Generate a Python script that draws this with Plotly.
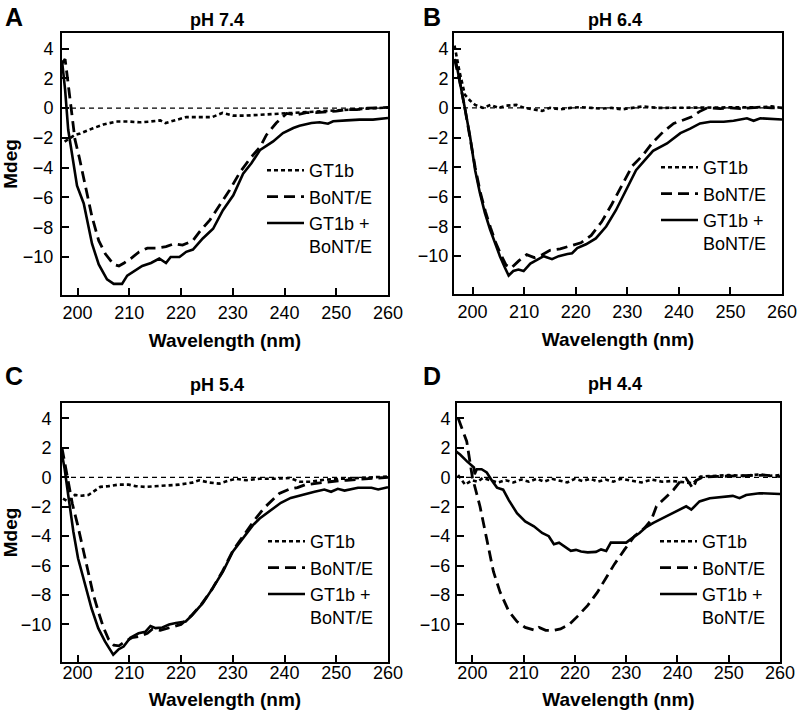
import plotly.graph_objects as go

# ---------------- data ----------------
panel_letters = ["A", "B", "C", "D"]
panel_titles = ["pH 7.4", "pH 6.4", "pH 5.4", "pH 4.4"]
series_names = ["GT1b", "BoNT/E", "GT1b +<br>BoNT/E"]
x_ticks = [200, 210, 220, 230, 240, 250, 260]
y_ticks = [4, 2, 0, -2, -4, -6, -8, -10]

# Panel A, pH 7.4
A_gt1b_wl = [197.5, 198.5, 199.5, 200.5, 201.5, 203, 205, 207.5, 210, 212, 214, 216, 217, 219, 221, 223.5,
             226, 228, 230, 232.5, 235, 237.5, 240, 242.5, 245, 247.5, 250, 252.5, 255, 257.5, 260]
A_gt1b = [-2.25, -2.0, -1.8, -1.7, -1.55, -1.35, -1.1, -0.9, -0.9, -0.95, -0.9, -0.82, -1.0, -0.78, -0.6, -0.6,
          -0.6, -0.32, -0.5, -0.5, -0.45, -0.4, -0.35, -0.3, -0.3, -0.25, -0.15, -0.1, -0.05, 0.0, 0.05]
A_bont_wl = [197, 197.6, 198.1, 198.8, 199.5, 200.3, 201.5, 202.8, 204.1, 205.4, 207, 208, 209, 210.3, 211.9,
             213.5, 215.1, 217.1, 218.7, 220.3, 222.3, 223.6, 225.6, 227.5, 229.4, 231.4, 233.3, 235.3, 236.5,
             238.4, 240.4, 242.3, 244.2, 246, 248, 250, 252, 254, 256, 258, 260]
A_bont = [3.0, 3.3, 1.9, -0.3, -2.1, -3.25, -5.3, -7.3, -8.9, -9.8, -10.5, -10.6, -10.4, -10.1, -9.65,
          -9.4, -9.4, -9.3, -9.1, -9.2, -8.9, -8.3, -7.5, -6.5, -5.5, -4.3, -3.4, -2.6, -1.8,
          -1.0, -0.35, -0.45, -0.3, -0.3, -0.25, -0.2, -0.1, -0.1, 0.0, 0.05, 0.05]
A_mix_wl = [197, 197.6, 198.2, 199.2, 199.9, 201.2, 202.8, 204.1, 205.7, 207, 208.6, 209.6, 211.2, 212.5, 214.2,
            215.8, 217.1, 218, 219.7, 221, 222.3, 224.2, 226.2, 228.1, 230.1, 232, 233.6, 235.3, 237.8, 239.7,
            241.7, 242.9, 245.2, 246.8, 248.4, 249.4, 252, 254.5, 257.1, 260]
A_mix = [3.2, 1.25, -1.45, -3.7, -5.2, -6.4, -9.1, -10.5, -11.5, -11.8, -11.8, -11.25, -10.9, -10.6, -10.4,
         -10.1, -10.4, -10.0, -10.0, -9.65, -9.5, -8.75, -8.1, -6.85, -5.85, -4.4, -3.7, -2.8, -2.23, -1.67,
         -1.33, -1.18, -1.0, -0.95, -1.04, -0.88, -0.82, -0.77, -0.77, -0.66]

# Panel B, pH 6.4
B_gt1b_wl = [196.5, 197.5, 198.5, 199.5, 200.5, 202, 203.5, 205, 206.5, 208.5, 210, 212, 213.5, 215, 217, 219,
             221, 223, 225, 227, 229, 231, 233, 236, 240, 243, 246, 250, 253, 256, 258, 260]
B_gt1b = [4.2, 2.4, 0.9, 0.5, 0.2, 0.0, 0.2, 0.0, 0.15, 0.2, 0.0, -0.1, -0.2, 0.0, -0.1, 0.0,
          0.05, 0.0, -0.05, 0.0, -0.1, 0.0, 0.1, 0.0, 0.0, 0.0, 0.05, 0.0, 0.0, 0.05, 0.1, 0.0]
B_bont_wl = [196.5, 197.5, 198.5, 199.5, 200.5, 201.5, 202.5, 203.5, 204.5, 205.5, 206.5, 207.5, 209, 210.5, 212,
             213.5, 215, 217, 219, 221, 223, 225, 227, 229, 231, 233, 235, 237, 239, 241, 242.5, 244, 245.5,
             248, 250, 252, 254, 256, 258, 260]
B_bont = [3.3, 1.8, 0.0, -2.0, -4.0, -5.7, -7.0, -8.1, -9.1, -9.9, -10.6, -10.8, -10.3, -9.9, -10.1,
          -9.9, -9.6, -9.5, -9.3, -9.1, -8.6, -7.7, -6.5, -5.2, -3.9, -3.2, -2.3, -1.6, -1.05, -0.8, -0.6, -0.25, 0.0,
          -0.05, 0.0, -0.05, 0.0, 0.05, 0.0, 0.0]
B_mix_wl = [196.7, 197.5, 198.5, 199.5, 200.5, 201.4, 202.4, 203.4, 204.4, 205.3, 206.3, 207, 207.9, 208.9, 209.9,
            211.2, 212.5, 213.8, 215.4, 216.7, 218.4, 219.3, 220.3, 222, 223.9, 225.9, 227.8, 229.8, 231.7, 233.7,
            235, 237.7, 240.3, 242.2, 243.2, 244.1, 246.1, 248.7, 250.6, 253.2, 254.5, 255.8, 260]
B_mix = [3.27, 1.7, 0.0, -1.9, -4.2, -5.7, -7.1, -8.2, -9.2, -10.0, -10.8, -11.3, -11.0, -10.9, -11.0,
         -10.5, -10.25, -10.0, -10.2, -10.0, -9.85, -9.8, -9.45, -9.2, -8.8, -8.0, -6.9, -5.5, -4.2, -3.4,
         -2.9, -2.4, -1.7, -1.4, -1.2, -1.05, -0.93, -0.93, -0.87, -0.7, -0.87, -0.7, -0.78]

# Panel C, pH 5.4
C_gt1b_wl = [197.2, 198.2, 199.5, 200.8, 202.1, 203.4, 204.4, 206, 207.9, 209.9, 211.2, 213.1, 215.1, 217.7, 219.6,
             222.2, 223.5, 225.5, 227.4, 229.4, 230.6, 232.6, 235.2, 238, 241, 243, 245, 248, 251, 254, 257, 260]
C_gt1b = [-1.45, -1.65, -1.2, -1.25, -1.2, -0.9, -0.65, -0.6, -0.5, -0.5, -0.6, -0.65, -0.6, -0.55, -0.5,
          -0.36, -0.2, -0.36, -0.43, -0.2, -0.1, -0.2, -0.1, -0.1, -0.05, -0.3, -0.3, -0.15, -0.1, -0.05, 0.0, 0.05]
C_bont_wl = [197, 198, 199, 200, 201, 202, 203, 204, 205, 206, 207, 208, 209, 210.5, 212, 213.5, 214.5, 216, 218,
             220, 222, 224, 226, 228, 230, 232, 234, 236, 237.5, 239, 241, 242.5, 244, 246, 248, 250, 252, 254,
             256, 258, 260]
C_bont = [2.0, 0.0, -1.8, -3.2, -4.8, -6.4, -7.9, -9.1, -10.2, -11.0, -11.4, -11.45, -11.2, -10.9, -10.8, -10.6,
          -10.3, -10.4, -10.2, -10.0, -9.4, -8.6, -7.6, -6.4, -5.0, -4.0, -3.0, -2.1, -1.6, -1.1, -0.8, -0.7,
          -0.5, -0.4, -0.3, -0.25, -0.2, -0.15, -0.1, -0.05, 0.0]
C_mix_wl = [196.75, 197.5, 198.2, 199.2, 200.1, 201.4, 202.7, 204, 205.3, 206.9, 207.9, 208.9, 210.2, 211.8, 213.1,
            214.1, 215.1, 216.4, 217.7, 219, 220.9, 222.2, 224.2, 226.1, 228.1, 230, 232, 233.9, 235.2, 236.7,
            239.3, 241.2, 243.2, 245.8, 247.7, 249, 250.3, 251.6, 254.2, 256.8, 258.1, 260]
C_mix = [2.05, 0.6, -1.2, -3.7, -5.5, -7.3, -8.9, -10.25, -11.15, -12.05, -11.7, -11.5, -10.9, -10.6, -10.5,
         -10.1, -10.25, -10.2, -10.0, -9.9, -9.8, -9.35, -8.55, -7.55, -6.4, -5.05, -4.15, -3.25, -2.8, -2.4,
         -1.73, -1.4, -1.2, -0.98, -0.83, -0.98, -0.78, -0.9, -0.71, -0.71, -0.83, -0.67]

# Panel D, pH 4.4
D_gt1b_wl = [197.2, 198.6, 199.9, 201, 202, 203.5, 205, 206.5, 208, 209.5, 211, 212.5, 214, 215.5, 217, 218.5, 220,
             221.5, 223, 224.5, 226, 227.5, 229, 231, 233, 235, 237, 239, 241, 243, 244.5, 247, 250, 253, 256,
             258, 260]
D_gt1b = [0.15, -0.5, -0.2, -0.3, -0.05, -0.2, -0.35, -0.2, -0.35, -0.15, -0.3, -0.1, -0.3, -0.1, -0.2, -0.35,
          -0.1, -0.25, -0.1, -0.3, -0.15, -0.3, -0.1, -0.2, -0.35, -0.15, -0.3, -0.25, -0.3, -0.4, 0.05, 0.1,
          0.15, 0.1, 0.2, 0.1, 0.15]
D_bont_wl = [197.25, 198, 198.9, 200, 201.5, 202.8, 204.1, 205.4, 207.1, 208.7, 210.3, 212.3, 213, 214.3, 215.9,
             217.2, 218.9, 220.5, 222.5, 224.4, 226.4, 227.7, 229.7, 231.6, 233.6, 234.9, 235.9, 237.2, 239.2,
             240.5, 241.7, 243, 243.7, 245, 248, 251, 254, 257, 260]
D_bont = [4.0, 3.3, 2.44, 0.0, -2.0, -4.2, -6.4, -7.8, -9.1, -9.8, -10.2, -10.4, -10.2, -10.4, -10.4,
          -10.3, -10.0, -9.45, -8.7, -7.8, -6.7, -5.9, -4.9, -4.0, -3.44, -2.9, -1.97, -1.53, -0.86,
          -0.3, -0.08, -0.75, -0.2, 0.03, 0.05, 0.1, 0.1, 0.15, 0.05]
D_mix_wl = [196.6, 197.6, 198.9, 199.9, 200.3, 200.45, 200.85, 201.8, 202.8, 203.8, 204.8, 206, 207.1, 208.7, 210.3,
            212, 213.6, 214.9, 215.9, 216.9, 218.2, 219.2, 220.2, 221.2, 222.5, 224.1, 225.1, 226.1, 227, 228.4,
            230, 231.3, 232.6, 233.9, 235.3, 237.9, 239.8, 241.7, 242.7, 244.3, 246.3, 248.9, 250.8, 252.1, 253.4,
            256, 260]
D_mix = [1.82, 1.55, 1.1, 0.78, 0.67, 0.2, 0.55, 0.55, 0.33, -0.22, -0.7, -0.84, -1.55, -2.44, -3.0,
         -3.33, -3.78, -4.0, -4.55, -4.44, -4.78, -5.0, -4.93, -5.04, -5.1, -5.07, -4.9, -5.0, -4.44, -4.44,
         -4.44, -4.1, -3.78, -3.38, -3.09, -2.64, -2.3, -1.97, -2.2, -1.64, -1.42, -1.3, -1.26, -1.42, -1.2,
         -1.08, -1.13]

panels = [
    [(A_gt1b_wl, A_gt1b), (A_bont_wl, A_bont), (A_mix_wl, A_mix)],
    [(B_gt1b_wl, B_gt1b), (B_bont_wl, B_bont), (B_mix_wl, B_mix)],
    [(C_gt1b_wl, C_gt1b), (C_bont_wl, C_bont), (C_mix_wl, C_mix)],
    [(D_gt1b_wl, D_gt1b), (D_bont_wl, D_bont), (D_mix_wl, D_mix)],
]

# ---------------- layout / styling ----------------
W, H = 800, 719
FONT = "Liberation Sans, Arial, Helvetica, sans-serif"
# plot boxes in pixels: (left, right, top, bottom)
boxes = [(62, 388, 33, 295), (454, 782, 33, 294), (62, 388, 403, 662), (457, 780, 403, 662)]
x_ranges = [[197, 260], [196.4, 260], [197, 260], [197, 260]]
y_range = [-12.55, 5.05]
styles = [dict(dash="4px,3px", width=2.6), dict(dash="11px,6px", width=2.8), dict(dash="solid", width=2.6)]
legend_pos = [(262, 152), (656, 149), (263, 523), (655, 523)]
title_pos = [(217, 20), (615, 20), (217, 385), (615, 384)]
letter_pos = [(3, 17), (421, 17), (3, 376), (421, 376)]
xlabel_standoff = [0, 0, -7, -7]
xtitle_standoff = [12, 12, 11, 11]
ylabel_standoff = [3, 0, 5, 1]

fig = go.Figure()
for p, series in enumerate(panels):
    idx = "" if p == 0 else str(p + 1)
    for s, (wl, val) in enumerate(series):
        fig.add_trace(go.Scatter(
            x=wl, y=val, mode="lines", name=series_names[s],
            line=dict(color="black", **styles[s]),
            xaxis="x" + idx, yaxis="y" + idx,
            legend="legend" + idx, showlegend=True, hoverinfo="skip",
        ))

layout = dict(
    width=W, height=H, margin=dict(l=0, r=0, t=0, b=0, autoexpand=False),
    paper_bgcolor="white", plot_bgcolor="white",
    font=dict(family=FONT, size=18, color="black"),
    annotations=[], shapes=[],
)
for p in range(4):
    idx = "" if p == 0 else str(p + 1)
    l, r, t, b = boxes[p]
    xa = dict(
        domain=[l / W, r / W], range=x_ranges[p], anchor="y" + idx, automargin=False,
        tickvals=x_ticks, ticks="inside", ticklen=7, tickwidth=1.5, tickcolor="black",
        showline=True, mirror=True, linecolor="black", linewidth=2,
        showgrid=False, zeroline=False,
        ticklabelstandoff=xlabel_standoff[p],
        tickfont=dict(size=18),
        title=dict(text="Wavelength (nm)", font=dict(size=19, weight="bold"),
                   standoff=xtitle_standoff[p]),
    )
    ya = dict(
        domain=[1 - b / H, 1 - t / H], range=y_range, anchor="x" + idx, automargin=False,
        tickvals=y_ticks, ticks="inside", ticklen=7, tickwidth=1.5, tickcolor="black",
        showline=True, mirror=True, linecolor="black", linewidth=2,
        showgrid=False, zeroline=False, ticklabelstandoff=ylabel_standoff[p],
        tickfont=dict(size=18),
    )
    if p in (0, 2):
        ya["title"] = dict(text="Mdeg", font=dict(size=19, weight="bold"), standoff=1)
    layout["xaxis" + idx] = xa
    layout["yaxis" + idx] = ya
    lx, ly = legend_pos[p]
    layout["legend" + idx] = dict(
        x=lx / W, y=1 - ly / H, xanchor="left", yanchor="top", xref="paper", yref="paper",
        bgcolor="rgba(0,0,0,0)", borderwidth=0, font=dict(size=18, family=FONT),
        valign="top", itemwidth=37, tracegroupgap=0,
    )
    # zero reference line
    layout["shapes"].append(dict(
        type="line", xref="x" + idx + " domain", yref="y" + idx, x0=0, x1=1, y0=0, y1=0,
        line=dict(color="black", width=1.2, dash="5px,4px"), layer="below",
    ))
    # panel title
    tx, ty = title_pos[p]
    layout["annotations"].append(dict(
        text=panel_titles[p], xref="paper", yref="paper", x=tx / W, y=1 - ty / H,
        showarrow=False, font=dict(size=18, weight="bold"), xanchor="center", yanchor="middle",
    ))
    # panel letter
    px_, py_ = letter_pos[p]
    layout["annotations"].append(dict(
        text=panel_letters[p], xref="paper", yref="paper", x=px_ / W, y=1 - py_ / H,
        showarrow=False, font=dict(size=25, weight="bold"), xanchor="left", yanchor="middle",
    ))

fig.update_layout(**layout)
fig.write_html("out.html", config={"displayModeBar": False},
               post_script="document.body.style.margin='0';")
